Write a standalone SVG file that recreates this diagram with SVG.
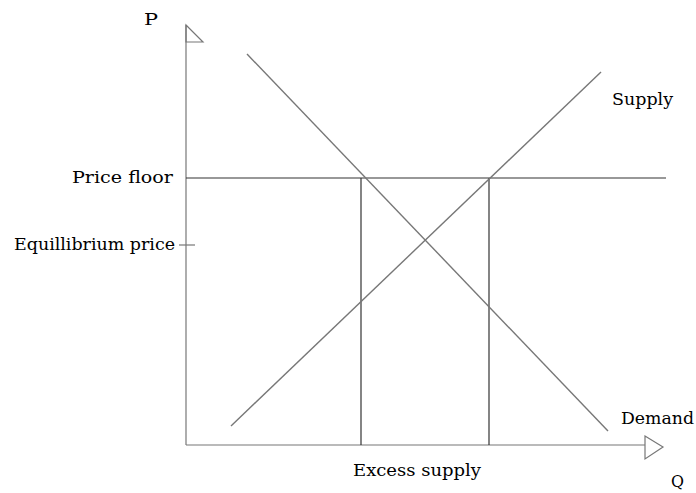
<svg xmlns="http://www.w3.org/2000/svg" width="696" height="493" viewBox="0 0 696 493">
<style>
.t{font-family:"DejaVu Serif","Liberation Serif",serif;font-size:16px;fill:#000}
.b{font-size:17px}
.ax{stroke:#777;stroke-width:1.2;fill:none}
.dk{stroke:#333;stroke-width:1.2;fill:none}
.cv{stroke:#777;stroke-width:1.4;fill:none}
</style>
<rect width="696" height="493" fill="#fff"/>
<g id="axes">
<line class="ax" x1="186" y1="25" x2="186" y2="445"/>
<polygon class="ax" points="186,25 203,42 186,42"/>
<line class="ax" x1="186" y1="445" x2="645" y2="445"/>
<polygon class="ax" points="645,436 663,447 645,459"/>
<line class="ax" x1="179" y1="245" x2="195" y2="245"/>
</g>
<g id="connectors">
<line class="dk" x1="186" y1="178" x2="666" y2="178"/>
<line class="dk" x1="361" y1="178" x2="361" y2="445"/>
<line class="dk" x1="489" y1="178" x2="489" y2="445"/>
<line id="demand" class="cv" x1="247" y1="54" x2="608" y2="431"/>
<line id="supply" class="cv" x1="231" y1="426" x2="601" y2="72"/>
</g>
<g id="labels">
<text class="t b" x="144" y="25" textLength="14" lengthAdjust="spacingAndGlyphs">P</text>
<text class="t" x="612" y="105" textLength="61" lengthAdjust="spacingAndGlyphs">Supply</text>
<text class="t" x="72" y="183" textLength="101" lengthAdjust="spacingAndGlyphs">Price floor</text>
<text class="t" x="14" y="250" textLength="161" lengthAdjust="spacingAndGlyphs">Equillibrium price</text>
<text class="t" x="621" y="424" textLength="73" lengthAdjust="spacingAndGlyphs">Demand</text>
<text class="t" x="671" y="487" textLength="13" lengthAdjust="spacingAndGlyphs">Q</text>
<text class="t" x="353" y="476" textLength="128" lengthAdjust="spacingAndGlyphs">Excess supply</text>
</g>
</svg>
